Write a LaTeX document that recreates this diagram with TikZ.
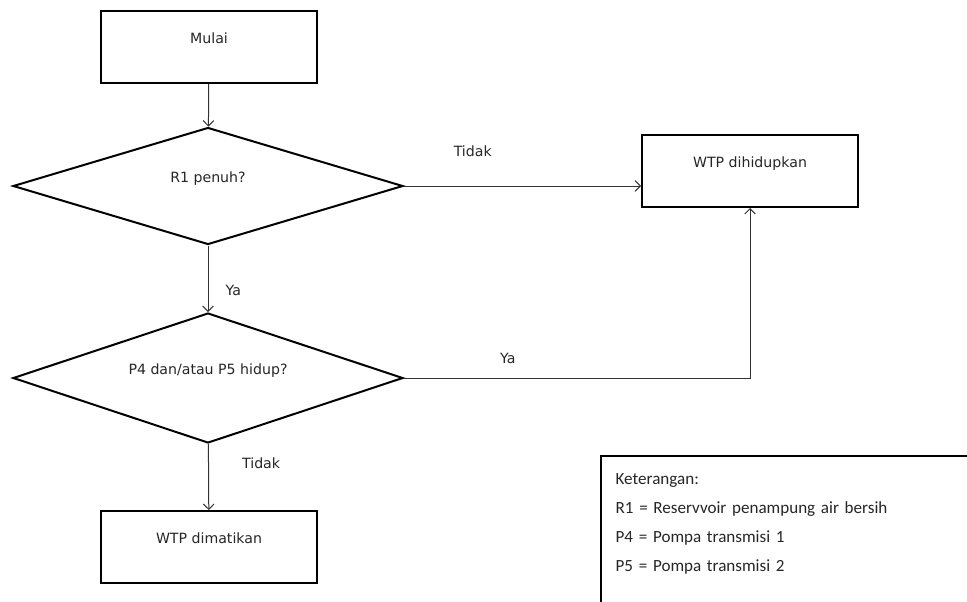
\documentclass[tikz,border=0pt]{standalone}
\usepackage{fontspec}
\setmainfont{DejaVu Sans}
\newfontfamily\legendfont{Carlito}
\usetikzlibrary{shapes.geometric, arrows.meta, positioning}

\begin{document}
\begin{tikzpicture}[x = 0.75pt, y = -0.75pt,
	every node/.style = {font = \fontsize{10.6}{12}\selectfont, text = black!85},
	proses/.style = {draw = black, line width = 1.5pt, minimum width = 162pt, minimum height = 54pt, text depth = 14pt},
	keputusan/.style = {draw = black, line width = 1.5pt, diamond, shape aspect = 3.33, minimum width = 292.5pt, minimum height = 87.75pt, inner sep = 0pt, text depth = 14pt},
	alur/.style = {draw = black!80, line width = 0.75pt, -{Straight Barb[length = 4pt, width = 8pt]}},
	catatan/.style = {draw = black, line width = 1.5pt, anchor = north west, align = left, text width = 300pt, inner xsep = 11pt, inner ysep = 13pt, font = \legendfont\fontsize{12.8}{21.75}\selectfont}]
	\useasboundingbox (0, 0) rectangle (967, 601);
	\node[proses] (mulai) at (209, 47) {Mulai};
	\node[keputusan] (r1) at (208, 186) {R1 penuh?};
	\node[keputusan, minimum height = 97.5pt, shape aspect = 3] (pompa) at (208, 378) {P4 dan/atau P5 hidup?};
	\node[proses] (mati) at (209, 547) {WTP dimatikan};
	\node[proses] (hidup) at (750, 171) {WTP dihidupkan};
	\coordinate (belok) at (pompa.east -| hidup.south);
	\draw[alur] (mulai) -- (r1);
	\draw[alur] (r1) -- node[pos = 0.68, right = 9.5pt] {Ya} (pompa);
	\draw[alur] (pompa) -- node[pos = 0.29, right = 21.5pt] {Tidak} (mati);
	\draw[alur] (r1.east) -- node[pos = 0.29, above = 18.5pt] {Tidak} (r1.east -| hidup.west);
	\draw[alur] (pompa.east) -- node[pos = 0.3, above = 7.3pt] {Ya} (belok) -- (hidup.south);
	\node[catatan] (keterangan) at (600, 455) {Keterangan:\\
		R1 = Reservvoir penampung air bersih\\
		P4 = Pompa transmisi 1\\
		P5 = Pompa transmisi 2\\[30pt]~};
\end{tikzpicture}
\end{document}
